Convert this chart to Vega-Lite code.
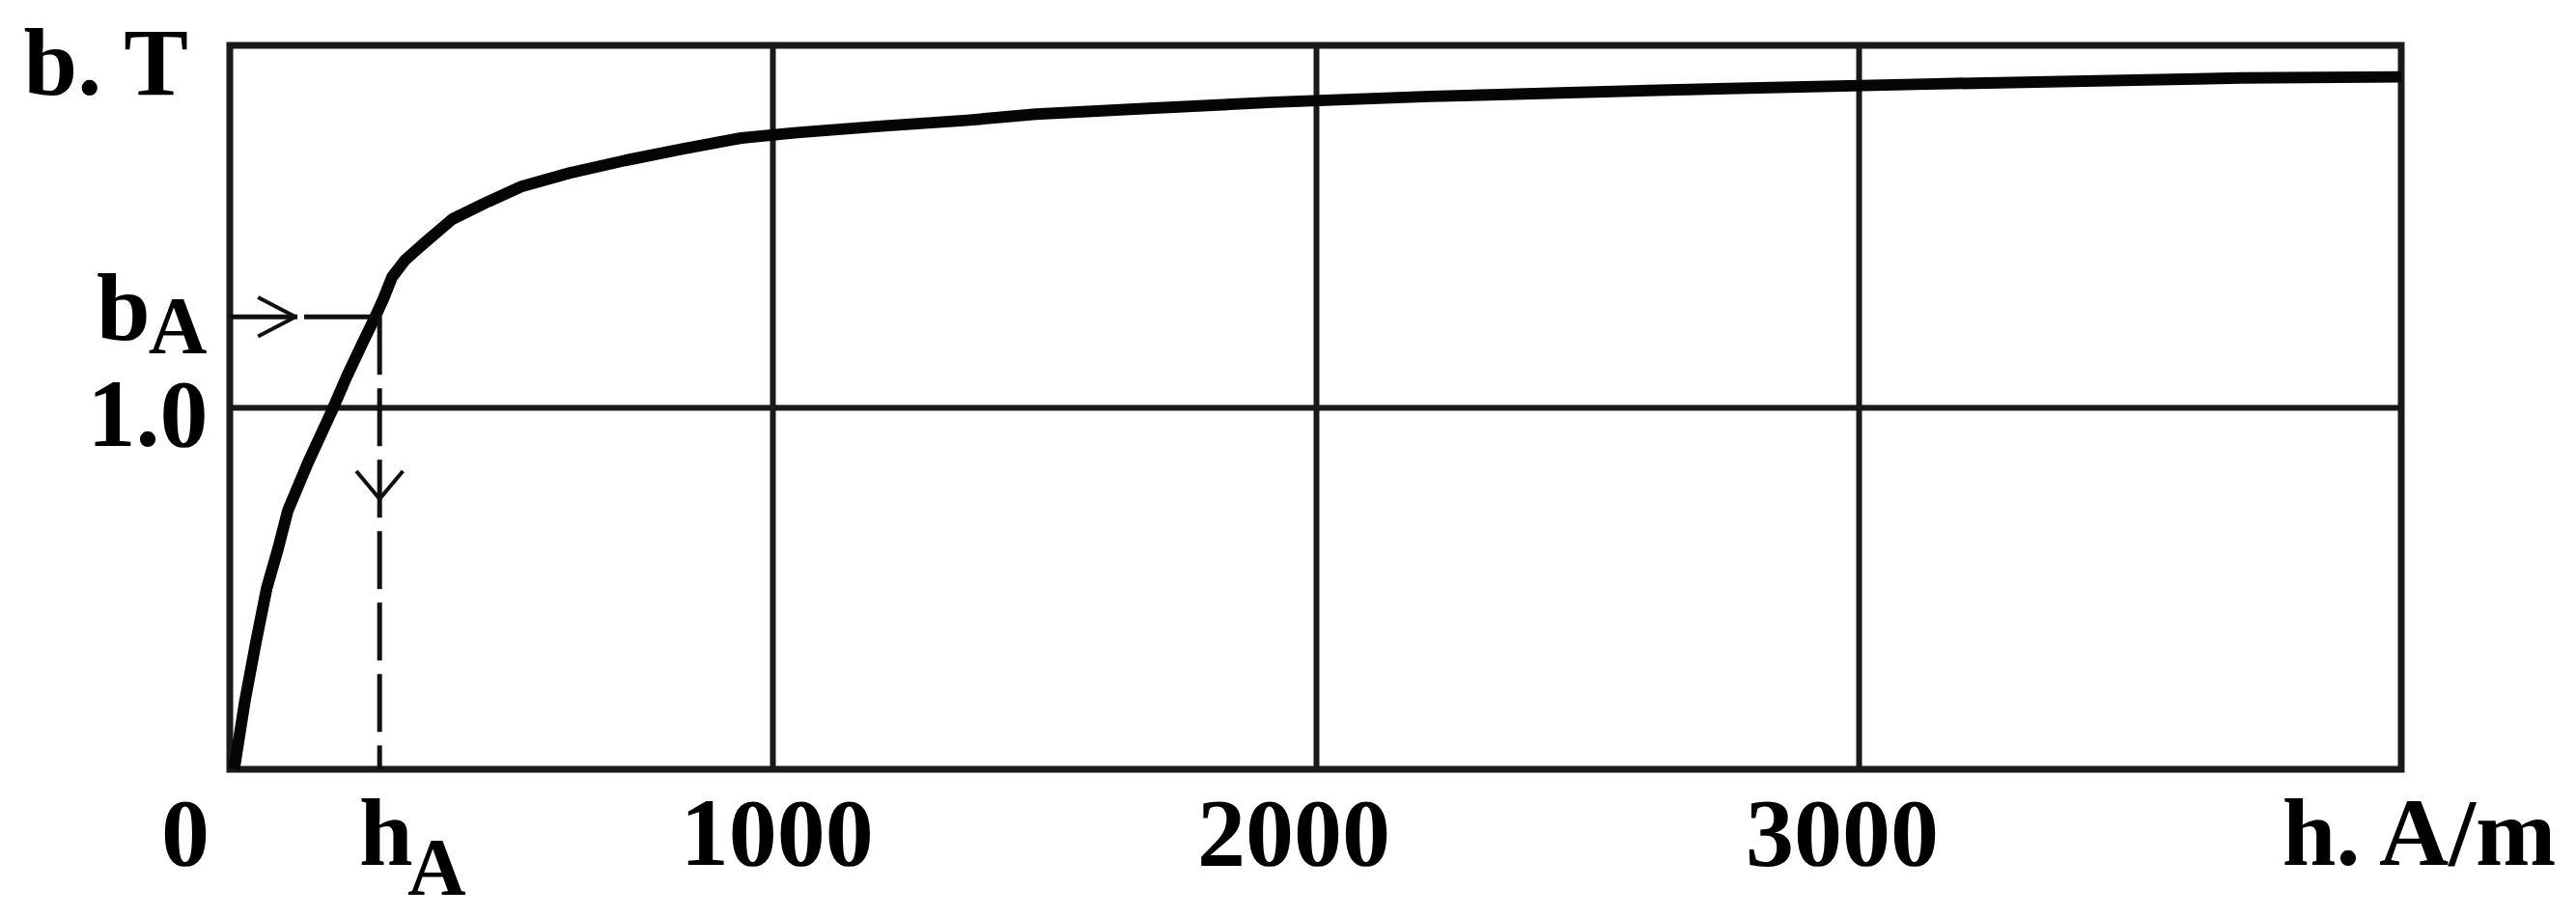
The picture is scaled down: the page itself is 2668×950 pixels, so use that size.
{
  "$schema": "https://vega.github.io/schema/vega-lite/v6.json",
  "width": 2249,
  "height": 750,
  "autosize": {"type": "none"},
  "padding": {"left": 238, "top": 47, "right": 181, "bottom": 153},
  "background": "white",
  "config": {
    "view": {"stroke": "#1a1a1a", "strokeWidth": 7},
    "font": "Liberation Serif"
  },
  "datasets": {
    "curve": [
      {"h": 8, "b": 0},
      {"h": 28, "b": 0.19},
      {"h": 48, "b": 0.35},
      {"h": 68, "b": 0.5},
      {"h": 89, "b": 0.61},
      {"h": 107, "b": 0.715},
      {"h": 144, "b": 0.847},
      {"h": 188, "b": 0.99},
      {"h": 216, "b": 1.087},
      {"h": 244, "b": 1.176},
      {"h": 267, "b": 1.247},
      {"h": 283, "b": 1.3},
      {"h": 299, "b": 1.36},
      {"h": 323, "b": 1.407},
      {"h": 363, "b": 1.46},
      {"h": 410, "b": 1.52},
      {"h": 474, "b": 1.567},
      {"h": 537, "b": 1.61},
      {"h": 625, "b": 1.647},
      {"h": 728, "b": 1.682},
      {"h": 831, "b": 1.713},
      {"h": 942, "b": 1.744},
      {"h": 1045, "b": 1.759},
      {"h": 1201, "b": 1.777},
      {"h": 1358, "b": 1.793},
      {"h": 1485, "b": 1.81},
      {"h": 1693, "b": 1.826},
      {"h": 1923, "b": 1.843},
      {"h": 2211, "b": 1.859},
      {"h": 2631, "b": 1.876},
      {"h": 3125, "b": 1.893},
      {"h": 3706, "b": 1.91},
      {"h": 4000, "b": 1.913}
    ],
    "hline": [{"h": 0, "h2": 276, "b": 1.25}],
    "vline": [{"h": 276, "b": 1.25, "b2": 0}],
    "arms": [
      {"h": 52, "b": 1.304, "h2": 121, "b2": 1.25},
      {"h": 52, "b": 1.196, "h2": 121, "b2": 1.25},
      {"h": 233, "b": 0.824, "h2": 276, "b2": 0.747},
      {"h": 319, "b": 0.824, "h2": 276, "b2": 0.747}
    ],
    "labels": [
      {"h": -228, "b": 1.864, "t": "b. T"},
      {"h": -196, "b": 1.187, "t": "b"},
      {"h": -82, "b": -0.264, "t": "0"},
      {"h": 288, "b": -0.264, "t": "h"},
      {"h": 1008, "b": -0.264, "t": "1000"},
      {"h": 1960, "b": -0.264, "t": "2000"},
      {"h": 2970, "b": -0.264, "t": "3000"},
      {"h": 4033, "b": -0.264, "t": "h. A/m"}
    ],
    "subs": [
      {"h": -96, "b": 1.15, "t": "A"},
      {"h": 381, "b": -0.347, "t": "A"}
    ]
  },
  "layer": [
    {
      "data": {"name": "curve"},
      "mark": {"type": "line", "color": "#050505", "strokeWidth": 12, "strokeJoin": "round", "strokeCap": "butt"},
      "encoding": {
        "x": {
          "field": "h", "type": "quantitative",
          "scale": {"domain": [0, 4000], "nice": false, "zero": false},
          "axis": {"values": [1000, 2000, 3000], "grid": true, "gridColor": "#1a1a1a", "gridWidth": 6, "gridOpacity": 1, "labels": false, "ticks": false, "domain": false, "title": null}
        },
        "y": {
          "field": "b", "type": "quantitative",
          "scale": {"domain": [0, 2], "nice": false, "zero": false},
          "axis": {"values": [1], "grid": true, "gridColor": "#1a1a1a", "gridWidth": 6, "gridOpacity": 1, "ticks": false, "tickSize": 0, "domain": false, "title": null,
            "labelExpr": "'1.0'", "labelFont": "Liberation Serif", "labelFontWeight": "bold", "labelFontSize": 100, "labelColor": "#000000",
            "labelPadding": 23, "labelBaseline": "alphabetic", "labelOffset": 39, "labelAlign": "right"}
        }
      }
    },
    {
      "data": {"name": "hline"},
      "mark": {"type": "rule", "color": "#111111", "strokeWidth": 5, "strokeDash": [70, 7]},
      "encoding": {
        "x": {"field": "h", "type": "quantitative", "scale": {"domain": [0, 4000], "nice": false, "zero": false}},
        "x2": {"field": "h2"},
        "y": {"field": "b", "type": "quantitative", "scale": {"domain": [0, 2], "nice": false, "zero": false}}
      }
    },
    {
      "data": {"name": "vline"},
      "mark": {"type": "rule", "color": "#111111", "strokeWidth": 5, "strokeDash": [60, 14]},
      "encoding": {
        "x": {"field": "h", "type": "quantitative", "scale": {"domain": [0, 4000], "nice": false, "zero": false}},
        "y": {"field": "b", "type": "quantitative", "scale": {"domain": [0, 2], "nice": false, "zero": false}},
        "y2": {"field": "b2"}
      }
    },
    {
      "data": {"name": "arms"},
      "mark": {"type": "rule", "color": "#111111", "strokeWidth": 4},
      "encoding": {
        "x": {"field": "h", "type": "quantitative", "scale": {"domain": [0, 4000], "nice": false, "zero": false}},
        "x2": {"field": "h2"},
        "y": {"field": "b", "type": "quantitative", "scale": {"domain": [0, 2], "nice": false, "zero": false}},
        "y2": {"field": "b2"}
      }
    },
    {
      "data": {"name": "labels"},
      "mark": {"type": "text", "font": "Liberation Serif", "fontWeight": "bold", "fontSize": 100, "color": "#000000", "align": "center", "baseline": "alphabetic"},
      "encoding": {
        "x": {"field": "h", "type": "quantitative", "scale": {"domain": [0, 4000], "nice": false, "zero": false}},
        "y": {"field": "b", "type": "quantitative", "scale": {"domain": [0, 2], "nice": false, "zero": false}},
        "text": {"field": "t"}
      }
    },
    {
      "data": {"name": "subs"},
      "mark": {"type": "text", "font": "Liberation Serif", "fontWeight": "bold", "fontSize": 84, "color": "#000000", "align": "center", "baseline": "alphabetic"},
      "encoding": {
        "x": {"field": "h", "type": "quantitative", "scale": {"domain": [0, 4000], "nice": false, "zero": false}},
        "y": {"field": "b", "type": "quantitative", "scale": {"domain": [0, 2], "nice": false, "zero": false}},
        "text": {"field": "t"}
      }
    }
  ]
}
